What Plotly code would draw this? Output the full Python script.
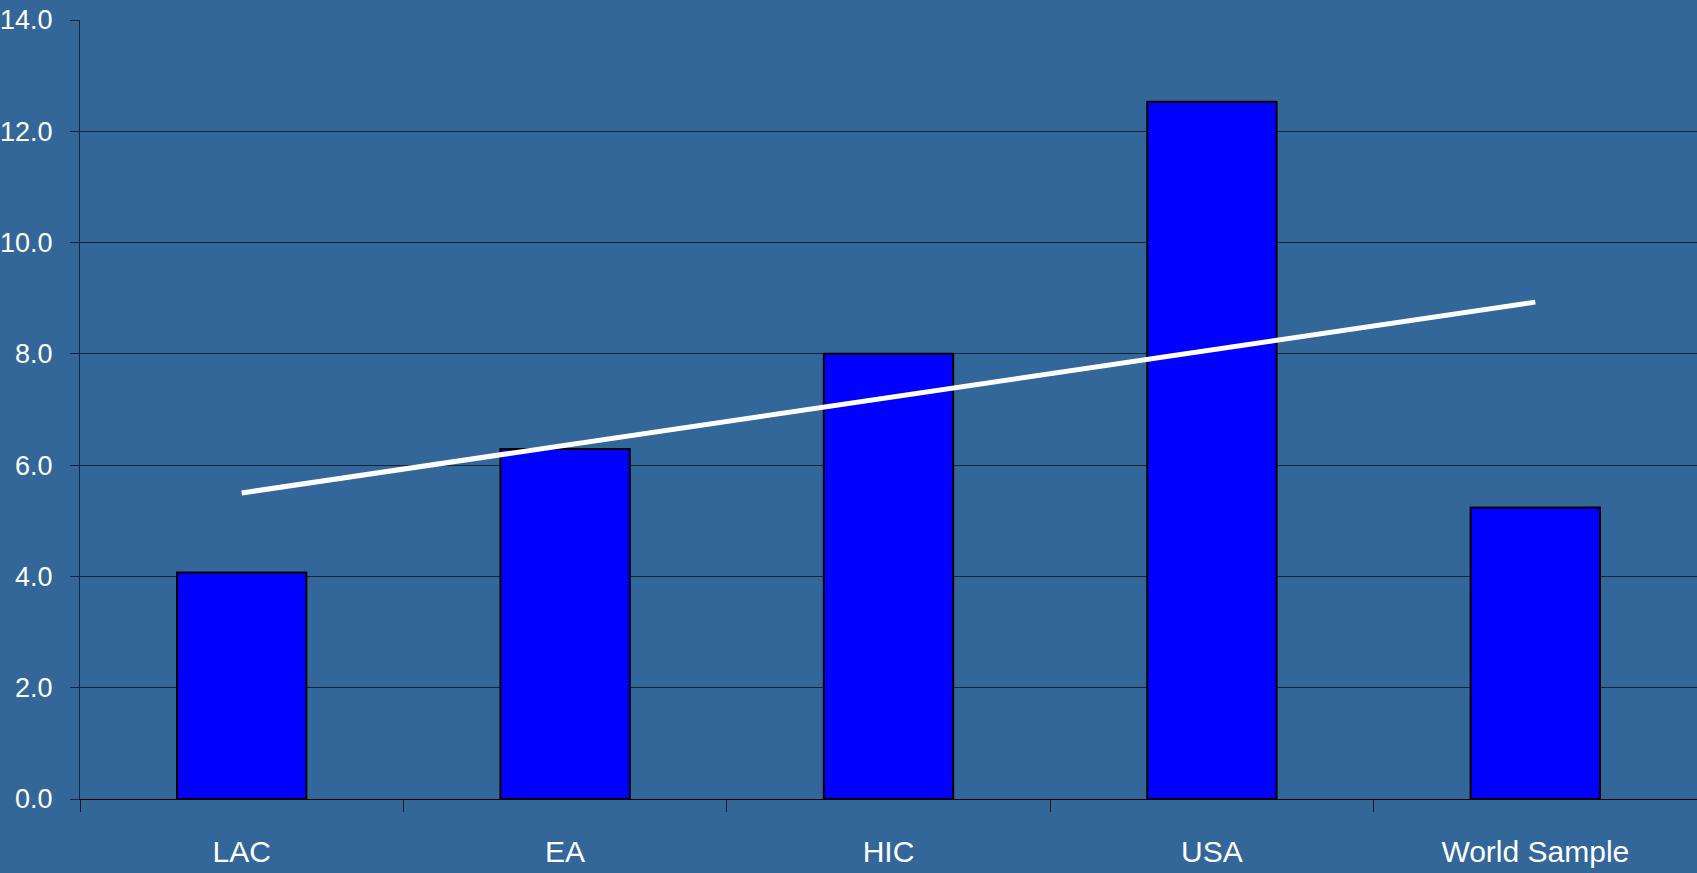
import plotly.graph_objects as go

categories = ["LAC", "EA", "HIC", "USA", "World Sample"]
bar_values = [4.07, 6.29, 8.0, 12.53, 5.24]
trend_values = [5.50, 6.36, 7.21, 8.07, 8.93]
y_tick_vals = [0, 2, 4, 6, 8, 10, 12, 14]
y_tick_text = ["0.0", "2.0", "4.0", "6.0", "8.0", "10.0", "12.0", "14.0"]

BG = "#336699"
FONT = "Liberation Sans Narrow, Arial Narrow, Liberation Sans, Arial, sans-serif"

fig = go.Figure()
fig.add_trace(go.Bar(
    x=categories, y=bar_values,
    marker=dict(color="#0000FF", line=dict(color="#000000", width=2)),
    width=0.4, showlegend=False, hoverinfo="skip",
))
fig.add_trace(go.Scatter(
    x=categories, y=trend_values, mode="lines",
    line=dict(color="#FFFFFF", width=5),
    showlegend=False, hoverinfo="skip",
))

fig.update_layout(
    width=1697, height=873,
    margin=dict(l=80, r=0, t=20, b=74),
    paper_bgcolor=BG, plot_bgcolor=BG,
    font=dict(family=FONT, color="#FFFFFF", size=30),
    bargap=0.6,
)
fig.update_xaxes(
    type="category", showgrid=False, automargin=False,
    showline=True, linecolor="#000000", linewidth=1,
    ticks="outside", tickson="boundaries", ticklen=12, tickcolor="#1a1a1a",
    tickfont=dict(size=30, family=FONT, color="#FFFFFF"),
    ticklabelstandoff=26,
    zeroline=False,
)
fig.update_yaxes(
    range=[0, 14], tickvals=y_tick_vals, ticktext=y_tick_text, automargin=False,
    showgrid=True, gridcolor="#1a2333", gridwidth=1,
    showline=True, linecolor="#1a2333", linewidth=1,
    ticks="outside", ticklen=9, tickcolor="#1a2333",
    tickfont=dict(size=27, family=FONT, color="#FFFFFF"),
    ticklabelstandoff=12,
    zeroline=False,
)

fig.write_html(
    "out.html",
    config={"displayModeBar": False},
    post_script="document.body.style.margin='0';document.body.style.background='" + BG + "';",
)
